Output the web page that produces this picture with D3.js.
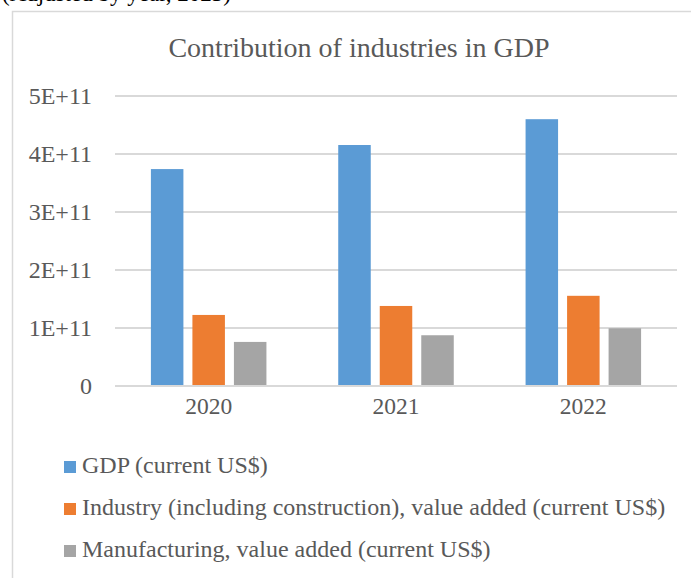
<!DOCTYPE html>
<html>
<head>
<meta charset="utf-8">
<script src="https://cdn.jsdelivr.net/npm/d3@7"></script>
<style>
  body { margin: 0; background: #fff; }
  svg { display: block; font-family: "Liberation Serif", "Times New Roman", serif; }
</style>
</head>
<body>
<svg width="691" height="578"></svg>
<script>
var years = ["2020", "2021", "2022"];
var seriesNames = [
  "GDP (current US$)",
  "Industry (including construction), value added (current US$)",
  "Manufacturing, value added (current US$)"
];
var gdp = [3.74e11, 4.155e11, 4.60e11];
var industry = [1.225e11, 1.38e11, 1.555e11];
var manufacturing = [0.76e11, 0.875e11, 0.995e11];
var yTicks = [0, 1e11, 2e11, 3e11, 4e11, 5e11];
var yTickLabels = ["0", "1E+11", "2E+11", "3E+11", "4E+11", "5E+11"];
var colors = ["#5B9BD5", "#ED7D31", "#A5A5A5"];

var values = [gdp, industry, manufacturing];
var data = years.map((yr, i) => ({
  year: yr,
  vals: seriesNames.map((s, j) => ({ key: s, value: values[j][i], color: colors[j] }))
}));

var svg = d3.select("svg");
var serif = '"Liberation Serif", "Times New Roman", serif';

// caption cut off at the top of the picture
svg.append("text")
  .attr("x", 2).attr("y", 1)
  .style("font-size", "23px").style("fill", "#000")
  .text("(Adjusted by year, 2023)");

// chart frame
svg.append("rect")
  .attr("x", 12.5).attr("y", 11.5)
  .attr("width", 690).attr("height", 580)
  .attr("fill", "#fff").attr("stroke", "#d9d9d9").attr("stroke-width", 1.5);

svg.append("text")
  .attr("x", 359).attr("y", 57)
  .attr("text-anchor", "middle")
  .style("font-size", "28px").style("fill", "#595959")
  .text("Contribution of industries in GDP");

var x0 = d3.scaleBand().domain(years).range([115, 677]).padding(0);
var x1 = d3.scaleBand().domain(seriesNames).range([0, x0.bandwidth()])
  .paddingInner(0.217).paddingOuter(0.865);
var y = d3.scaleLinear().domain([0, 5e11]).range([386, 96]);

// gridlines
svg.append("g")
  .selectAll("line")
  .data(yTicks)
  .join("line")
  .attr("x1", 115).attr("x2", 677)
  .attr("y1", d => y(d)).attr("y2", d => y(d))
  .attr("stroke", "#d9d9d9").attr("stroke-width", 2);

// y axis labels
var yAxis = svg.append("g")
  .attr("transform", "translate(99,0)")
  .call(d3.axisLeft(y).tickValues(yTicks).tickSize(0).tickPadding(7)
    .tickFormat((d, i) => yTickLabels[i]));
yAxis.select(".domain").remove();
yAxis.selectAll("text")
  .style("font-family", serif)
  .style("font-size", "24px").style("fill", "#595959");

// x axis labels
var xAxis = svg.append("g")
  .attr("transform", "translate(0,397)")
  .call(d3.axisBottom(x0).tickSize(0).tickPadding(0));
xAxis.select(".domain").remove();
xAxis.selectAll("text")
  .attr("dy", "0.71em")
  .style("font-family", serif)
  .style("font-size", "23.5px").style("fill", "#595959");

// bars
svg.append("g")
  .selectAll("g")
  .data(data)
  .join("g")
  .attr("transform", d => `translate(${x0(d.year)},0)`)
  .selectAll("rect")
  .data(d => d.vals)
  .join("rect")
  .attr("x", d => x1(d.key))
  .attr("width", x1.bandwidth())
  .attr("y", d => y(d.value))
  .attr("height", d => y(0) - y(d.value))
  .attr("fill", d => d.color);

// baseline on top of bars
svg.append("line")
  .attr("x1", 115).attr("x2", 677)
  .attr("y1", y(0)).attr("y2", y(0))
  .attr("stroke", "#d9d9d9").attr("stroke-width", 2);

// legend
var legend = svg.append("g")
  .selectAll("g")
  .data(seriesNames)
  .join("g")
  .attr("transform", (d, i) => `translate(64,${473 + i * 42})`);

legend.append("rect")
  .attr("x", 0).attr("y", -12)
  .attr("width", 12).attr("height", 12)
  .attr("fill", (d, i) => colors[i]);

legend.append("text")
  .attr("x", 18).attr("y", 0)
  .style("font-size", "24px").style("fill", "#595959")
  .text(d => d);
</script>
</body>
</html>
